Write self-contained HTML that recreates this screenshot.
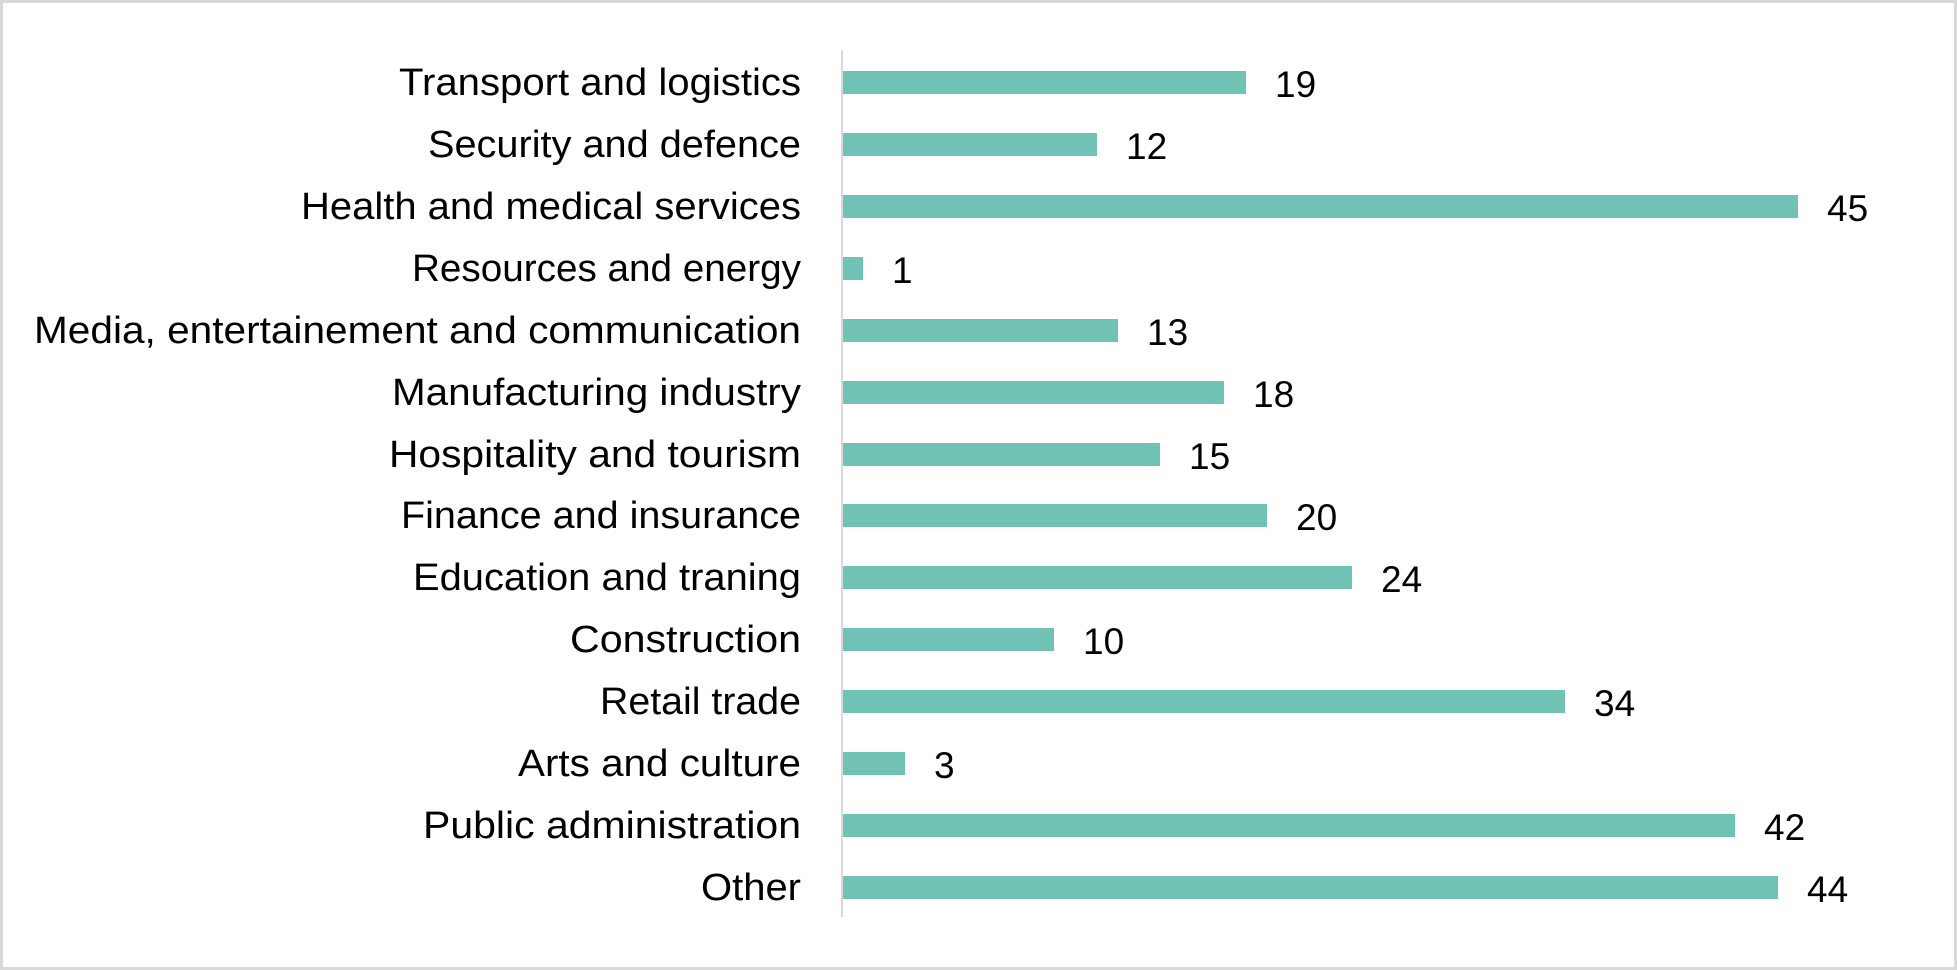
<!DOCTYPE html>
<html><head><meta charset="utf-8"><style>html,body{margin:0;padding:0;background:#fff}svg{display:block}</style></head>
<body>
<svg width="1957" height="970" viewBox="0 0 1957 970" xmlns="http://www.w3.org/2000/svg" font-family="'Liberation Sans', sans-serif">
<rect x="1.5" y="1.5" width="1954" height="967" fill="#fff" stroke="#d9d9d9" stroke-width="3"/>
<line x1="842" y1="50" x2="842" y2="917" stroke="#d9d9d9" stroke-width="2"/>
<g fill="#70c2b4">
<rect x="843" y="71" width="403" height="23"/>
<rect x="843" y="133" width="254" height="23"/>
<rect x="843" y="195" width="955" height="23"/>
<rect x="843" y="257" width="20" height="23"/>
<rect x="843" y="319" width="275" height="23"/>
<rect x="843" y="381" width="381" height="23"/>
<rect x="843" y="443" width="317" height="23"/>
<rect x="843" y="504" width="424" height="23"/>
<rect x="843" y="566" width="509" height="23"/>
<rect x="843" y="628" width="211" height="23"/>
<rect x="843" y="690" width="722" height="23"/>
<rect x="843" y="752" width="62" height="23"/>
<rect x="843" y="814" width="892" height="23"/>
<rect x="843" y="876" width="935" height="23"/>
</g>
<g font-size="38" fill="#000" text-anchor="end">
<text x="801" y="95" textLength="402" lengthAdjust="spacingAndGlyphs">Transport and logistics</text>
<text x="801" y="157" textLength="373" lengthAdjust="spacingAndGlyphs">Security and defence</text>
<text x="801" y="219" textLength="500" lengthAdjust="spacingAndGlyphs">Health and medical services</text>
<text x="801" y="281" textLength="389" lengthAdjust="spacingAndGlyphs">Resources and energy</text>
<text x="801" y="343" textLength="767" lengthAdjust="spacingAndGlyphs">Media, entertainement and communication</text>
<text x="801" y="405" textLength="409" lengthAdjust="spacingAndGlyphs">Manufacturing industry</text>
<text x="801" y="467" textLength="412" lengthAdjust="spacingAndGlyphs">Hospitality and tourism</text>
<text x="801" y="528" textLength="400" lengthAdjust="spacingAndGlyphs">Finance and insurance</text>
<text x="801" y="590" textLength="388" lengthAdjust="spacingAndGlyphs">Education and traning</text>
<text x="801" y="652" textLength="231" lengthAdjust="spacingAndGlyphs">Construction</text>
<text x="801" y="714" textLength="201" lengthAdjust="spacingAndGlyphs">Retail trade</text>
<text x="801" y="776" textLength="283" lengthAdjust="spacingAndGlyphs">Arts and culture</text>
<text x="801" y="838" textLength="378" lengthAdjust="spacingAndGlyphs">Public administration</text>
<text x="801" y="900" textLength="100" lengthAdjust="spacingAndGlyphs">Other</text>
</g>
<g font-size="37" fill="#000">
<text x="1275" y="97">19</text>
<text x="1126" y="159">12</text>
<text x="1827" y="221">45</text>
<text x="892" y="283">1</text>
<text x="1147" y="345">13</text>
<text x="1253" y="407">18</text>
<text x="1189" y="469">15</text>
<text x="1296" y="530">20</text>
<text x="1381" y="592">24</text>
<text x="1083" y="654">10</text>
<text x="1594" y="716">34</text>
<text x="934" y="778">3</text>
<text x="1764" y="840">42</text>
<text x="1807" y="902">44</text>
</g>
</svg>
</body></html>
